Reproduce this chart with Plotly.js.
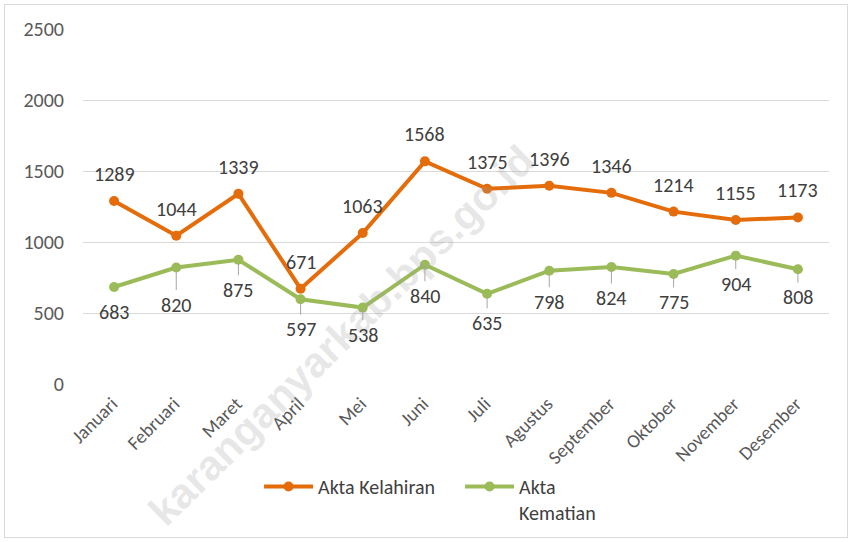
<!DOCTYPE html>
<html><head><meta charset="utf-8">
<script src="https://cdn.plot.ly/plotly-3.0.1.min.js"></script>
<style>
body{margin:0;background:#fff;}
#wrap{position:relative;width:852px;height:542px;}
#chart{position:absolute;left:0;top:0;width:852px;height:542px;}
#frame{position:absolute;left:4px;top:4px;width:842px;height:532px;border:1px solid #d9d9d9;pointer-events:none;}
</style></head>
<body><div id="wrap"><div id="chart"></div><div id="frame"></div></div>
<script>
const months = ["Januari","Februari","Maret","April","Mei","Juni","Juli","Agustus","September","Oktober","November","Desember"];
const aktaKelahiran = [1289,1044,1339,671,1063,1568,1375,1396,1346,1214,1155,1173];
const aktaKematian = [683,820,875,597,538,840,635,798,824,775,904,808];
const yTicks = [0,500,1000,1500,2000,2500];
// label placement (pixels below the point) for the green series, as in the reference
const kematianLabelDrop = [25,37,30,30,27,31,29,31,31,28,28,28];

const font = "Calibri, Carlito, Lato, 'Open Sans', sans-serif";
const ORANGE = "#E46C0A", GREEN = "#9BBB59";
const traces = [
 {x:months,y:aktaKelahiran,name:"Akta Kelahiran",type:"scatter",mode:"lines+markers",
  line:{color:ORANGE,width:4},marker:{color:ORANGE,size:10}},
 {x:months,y:aktaKematian,name:"Akta<br>Kematian",type:"scatter",mode:"lines+markers",
  line:{color:GREEN,width:4},marker:{color:GREEN,size:10}}
];
const annotations = [];
annotations.push({text:"karanganyarkab.bps.go.id",xref:"paper",yref:"paper",x:0.346,y:0.138,
   xanchor:"center",yanchor:"middle",showarrow:false,textangle:-44.5,
   font:{size:42,color:"rgba(160,160,160,0.26)",family:"'Liberation Sans', Arial, sans-serif",weight:"bold"}});
months.forEach((m,i)=>{
  annotations.push({x:m,y:aktaKelahiran[i],xref:"x",yref:"y",text:String(aktaKelahiran[i]),
    showarrow:false,yshift:27,font:{size:20,color:"#404040",family:font}});
  const d = kematianLabelDrop[i];
  const lead = d >= 27;
  annotations.push({x:m,y:aktaKematian[i],xref:"x",yref:"y",text:String(aktaKematian[i]),
    showarrow:lead,ax:0,ay:d,arrowhead:0,arrowwidth:1,arrowcolor:"#a6a6a6",standoff:4,startstandoff:1,
    yshift:lead?0:-d,font:{size:20,color:"#404040",family:font}});
});
const layout = {
 width:852,height:542,
 margin:{l:83,r:23,t:29,b:158},
 paper_bgcolor:"#fff",plot_bgcolor:"#fff",
 font:{family:font,color:"#595959"},
 showlegend:true,
 legend:{orientation:"h",x:0.236,xanchor:"left",xref:"paper",y:1-467/542,yref:"container",yanchor:"top",
   font:{size:20,color:"#404040",family:font},itemwidth:49,entrywidth:137,entrywidthmode:"pixels",valign:"top",
   bgcolor:"rgba(0,0,0,0)"},
 xaxis:{type:"category",range:[-0.5,11.5],tickangle:-45,tickfont:{size:19,color:"#595959",family:font},
   showgrid:false,zeroline:false,showline:false,ticks:"",automargin:false,ticklabelshift:-2,ticklabelstandoff:4},
 yaxis:{range:[0,2500],tickvals:yTicks,ticktext:yTicks.map(String),
   tickfont:{size:20,color:"#595959",family:font},gridcolor:"#d9d9d9",gridwidth:1,
   zeroline:false,showline:false,ticklabelstandoff:18,automargin:false},
 annotations:annotations
};
Plotly.newPlot("chart",traces,layout,{displayModeBar:false});
</script></body></html>
